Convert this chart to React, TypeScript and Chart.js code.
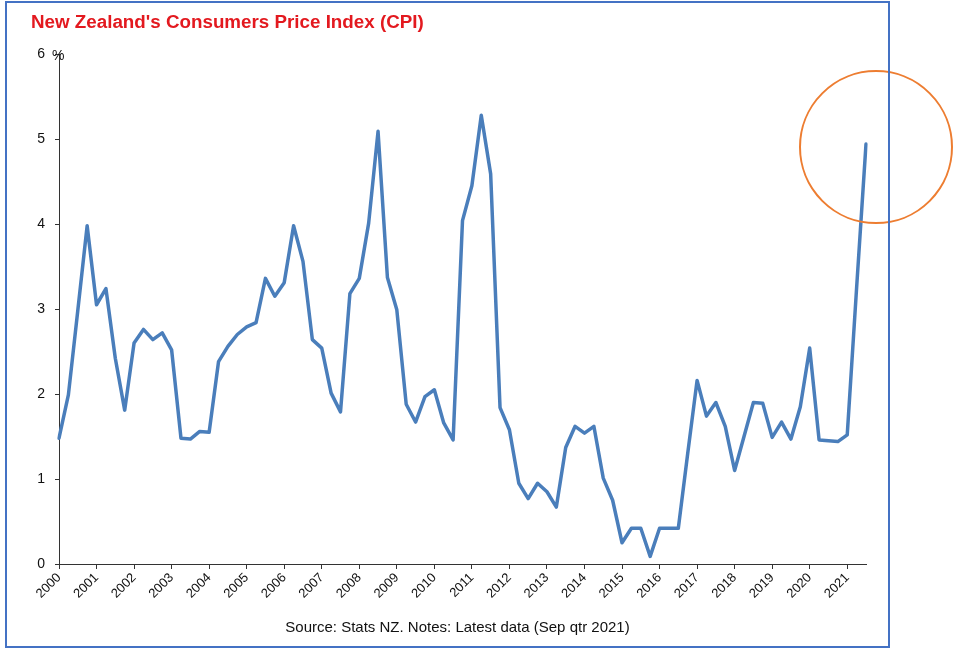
import React, { useEffect, useRef } from "react";
import { Chart, registerables } from "chart.js";

Chart.register(...registerables);

const years = [
  "2000", "2001", "2002", "2003", "2004", "2005", "2006", "2007", "2008", "2009", "2010",
  "2011", "2012", "2013", "2014", "2015", "2016", "2017", "2018", "2019", "2020", "2021",
];
const quarters = ["Q1", "Q2", "Q3", "Q4"];

// Annual % change in CPI, quarterly (Mar 2000 – Sep 2021)
const cpi = [
  1.48, 1.99, 2.98, 3.98,
  3.05, 3.24, 2.42, 1.81,
  2.6, 2.76, 2.64, 2.72,
  2.52, 1.48, 1.47, 1.56,
  1.55, 2.38, 2.56, 2.7,
  2.79, 2.84, 3.36, 3.15,
  3.31, 3.98, 3.56, 2.64,
  2.54, 2.01, 1.79, 3.18,
  3.36, 4.01, 5.09, 3.37,
  2.99, 1.88, 1.67, 1.97,
  2.05, 1.66, 1.46, 4.04,
  4.45, 5.28, 4.59, 1.84,
  1.58, 0.95, 0.77, 0.95,
  0.85, 0.67, 1.37, 1.62,
  1.54, 1.62, 1.01, 0.75,
  0.25, 0.42, 0.42, 0.09,
  0.42, 0.42, 0.42, 1.3,
  2.16, 1.74, 1.9, 1.62,
  1.1, 1.5, 1.9, 1.89,
  1.49, 1.67, 1.47, 1.85,
  2.54, 1.46, 1.45, 1.44,
  1.52, 3.25, 4.94,
];

const labels: string[] = [];
years.forEach((y) => quarters.forEach((q) => labels.push(y + " " + q)));
labels.length = cpi.length;

const yTicks = [0, 1, 2, 3, 4, 5, 6];

const titleText = "New Zealand's Consumers Price Index (CPI)";
const unitText = "%";
const sourceText = "Source: Stats NZ. Notes: Latest data (Sep qtr 2021)";

const FONT = "'Liberation Sans', Arial, Helvetica, sans-serif";

const decorPlugin = {
  id: "decor",
  afterDraw(chart: any) {
    const ctx = chart.ctx;
    const { chartArea } = chart;
    const xs = chart.scales.x;
    const ys = chart.scales.y;
    ctx.save();
    // title
    ctx.fillStyle = "#E3191F";
    ctx.font = "bold 18.8px " + FONT;
    ctx.textAlign = "left";
    ctx.textBaseline = "alphabetic";
    ctx.fillText(titleText, 31, 28);
    // unit
    ctx.fillStyle = "#111";
    ctx.font = "14px " + FONT;
    ctx.fillText(unitText, chartArea.left - 7, ys.getPixelForValue(yTicks[yTicks.length - 1]) + 6);
    // source
    ctx.fillStyle = "#111";
    ctx.font = "15px " + FONT;
    ctx.textAlign = "center";
    ctx.fillText(sourceText, (chartArea.left + chartArea.right) / 2 - 5, 632);
    // highlight circle around latest value
    const last = cpi.length - 1;
    const px = xs.getPixelForValue(last);
    const py = ys.getPixelForValue(cpi[last]);
    ctx.strokeStyle = "#ED7D31";
    ctx.lineWidth = 2;
    ctx.beginPath();
    ctx.arc(px + 10, py + 3, 76, 0, Math.PI * 2);
    ctx.stroke();
    // frame
    ctx.strokeStyle = "#4472C4";
    ctx.lineWidth = 2;
    ctx.strokeRect(6, 2, 883, 645);
    ctx.restore();
  },
};

export default function App() {
  const ref = useRef<HTMLCanvasElement | null>(null);
  useEffect(() => {
    if (!ref.current) return;
    const chart = new Chart(ref.current, {
      type: "line",
      data: {
        labels,
        datasets: [
          {
            label: "CPI",
            data: cpi,
            borderColor: "#4A7EBB",
            borderWidth: 3.5,
            borderJoinStyle: "round",
            borderCapStyle: "round",
            pointRadius: 0,
            tension: 0,
            fill: false,
          },
        ],
      },
      options: {
        animation: false,
        responsive: false,
        layout: { padding: { left: 0, top: 54, right: 87, bottom: 0 } },
        plugins: {
          legend: { display: false },
          title: { display: false },
          tooltip: { enabled: false },
        },
        scales: {
          x: {
            type: "category",
            offset: false,
            afterFit: (s: any) => {
              s.height = 84;
            },
            border: { color: "#333", width: 1 },
            grid: {
              drawOnChartArea: false,
              tickLength: 5,
              tickColor: (c: any) => (c.index % 4 === 0 ? "#333" : "rgba(0,0,0,0)"),
            },
            ticks: {
              autoSkip: false,
              maxRotation: 45,
              minRotation: 45,
              padding: 1,
              color: "#111",
              font: { family: FONT, size: 13 },
              callback: (_v: any, i: number) => (i % 4 === 0 ? years[i / 4] : ""),
            },
          },
          y: {
            min: yTicks[0],
            max: yTicks[yTicks.length - 1],
            afterFit: (s: any) => {
              s.width = 59;
            },
            border: { color: "#333", width: 1 },
            grid: { drawOnChartArea: false, tickLength: 4, tickColor: "#333" },
            ticks: {
              stepSize: 1,
              padding: 10,
              color: "#111",
              font: { family: FONT, size: 14 },
            },
          },
        },
      },
      plugins: [decorPlugin],
    });
    return () => chart.destroy();
  }, []);
  return (
    <div style={{ position: "fixed", left: 0, top: 0, width: 953, height: 648, background: "#fff" }}>
      <canvas ref={ref} width={953} height={648} style={{ display: "block" }} />
    </div>
  );
}
